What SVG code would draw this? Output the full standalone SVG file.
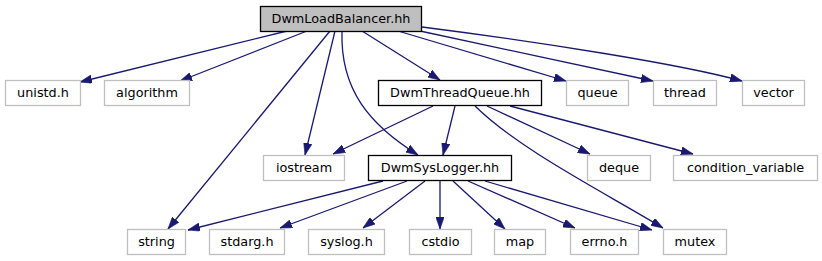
<svg xmlns="http://www.w3.org/2000/svg" width="822" height="261" viewBox="0 0 822 261">
<style>
text{font-family:"DejaVu Sans","Liberation Sans",sans-serif;font-size:12.8px;fill:#000;text-anchor:middle}
.sys rect{fill:#fff;stroke:#bfbfbf;stroke-width:1.3}
.prj rect{fill:#fff;stroke:#000;stroke-width:1.3}
.root rect{fill:#bfbfbf;stroke:#000;stroke-width:1.3}
.edges path{fill:none;stroke:#191970;stroke-width:1.3;marker-end:url(#ah)}
</style>
<defs>
<marker id="ah" viewBox="0 0 10 7" refX="10" refY="3.5" markerWidth="12" markerHeight="8.4" markerUnits="userSpaceOnUse" orient="auto">
<path d="M0,0 L10,3.5 L0,7 z" fill="#191970" stroke="#191970" stroke-width="0.5"/>
</marker>
</defs>
<rect width="822" height="261" fill="#fff"/>
<g class="edges">
<path d="M287,31 L80,82"/>
<path d="M307,31 L180,81"/>
<path d="M362,31 L440,80"/>
<path d="M398,31 L566,81"/>
<path d="M420,31 L653,81"/>
<path d="M422,27 C540,42 680,64 742,81"/>
<path d="M335,31 L305,155"/>
<path d="M330,31 L168,229"/>
<path d="M342,31 C340,90 370,125 418,155"/>
<path d="M433,106 L333,154"/>
<path d="M455,106 L443,155"/>
<path d="M475,106 C520,150 600,190 663,228"/>
<path d="M487,106 L590,154"/>
<path d="M510,106 L693,154"/>
<path d="M383,181 L188,230"/>
<path d="M407,181 L280,228"/>
<path d="M425,181 L363,228"/>
<path d="M440,181 L440,229"/>
<path d="M453,181 L505,229"/>
<path d="M468,181 L575,228"/>
<path d="M485,181 L652,230"/>
</g>
<g id="DwmLoadBalancer" class="root"><rect x="260.5" y="6.5" width="161" height="25"/><text x="341" y="23">DwmLoadBalancer.hh</text></g>
<g id="unistd" class="sys"><rect x="5.5" y="80.5" width="75" height="25"/><text x="43" y="97">unistd.h</text></g>
<g id="algorithm" class="sys"><rect x="104.5" y="80.5" width="85" height="25"/><text x="147" y="97">algorithm</text></g>
<g id="DwmThreadQueue" class="prj"><rect x="378.5" y="80.5" width="163" height="25"/><text x="460" y="97">DwmThreadQueue.hh</text></g>
<g id="queue" class="sys"><rect x="566.5" y="80.5" width="62" height="25"/><text x="597.5" y="97">queue</text></g>
<g id="thread" class="sys"><rect x="653.5" y="80.5" width="63" height="25"/><text x="685" y="97">thread</text></g>
<g id="vector" class="sys"><rect x="742.5" y="80.5" width="62" height="25"/><text x="773.5" y="97">vector</text></g>
<g id="iostream" class="sys"><rect x="263.5" y="155.5" width="81" height="25"/><text x="304" y="172">iostream</text></g>
<g id="DwmSysLogger" class="prj"><rect x="368.5" y="155.5" width="143" height="25"/><text x="440" y="172">DwmSysLogger.hh</text></g>
<g id="deque" class="sys"><rect x="587.5" y="155.5" width="63" height="25"/><text x="619" y="172">deque</text></g>
<g id="condition_variable" class="sys"><rect x="673.5" y="155.5" width="144" height="25"/><text x="745.5" y="172">condition_variable</text></g>
<g id="string" class="sys"><rect x="127.5" y="229.5" width="58" height="25"/><text x="156.5" y="246">string</text></g>
<g id="stdarg" class="sys"><rect x="209.5" y="229.5" width="75" height="25"/><text x="247" y="246">stdarg.h</text></g>
<g id="syslog" class="sys"><rect x="308.5" y="229.5" width="76" height="25"/><text x="346.5" y="246">syslog.h</text></g>
<g id="cstdio" class="sys"><rect x="409.5" y="229.5" width="62" height="25"/><text x="440.5" y="246">cstdio</text></g>
<g id="map" class="sys"><rect x="494.5" y="229.5" width="51" height="25"/><text x="520" y="246">map</text></g>
<g id="errno" class="sys"><rect x="570.5" y="229.5" width="68" height="25"/><text x="604.5" y="246">errno.h</text></g>
<g id="mutex" class="sys"><rect x="663.5" y="229.5" width="63" height="25"/><text x="695" y="246">mutex</text></g>
</svg>
